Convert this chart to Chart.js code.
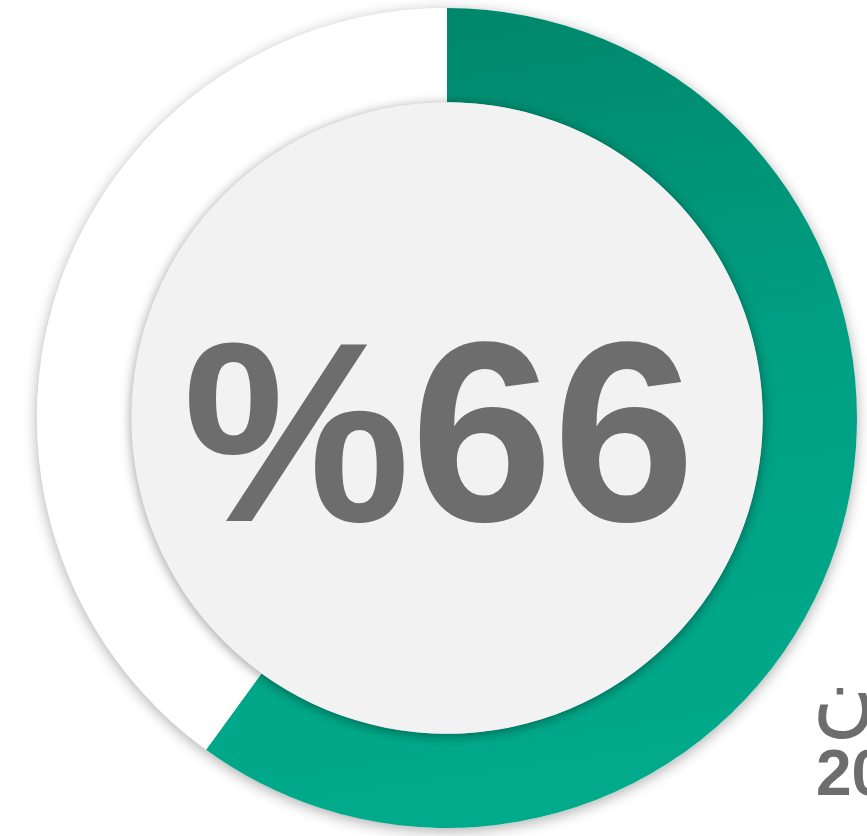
<!DOCTYPE html>
<html>
<head>
<meta charset="utf-8">
<script src="https://cdn.jsdelivr.net/npm/chart.js@4/dist/chart.umd.min.js"></script>
<style>
    html, body { margin: 0; padding: 0; background: #ffffff; }
    #wrap { width: 867px; height: 836px; position: relative; }
</style>
</head>
<body>
<div id="wrap"><canvas id="chart"></canvas></div>
<script>
// chart data
const labels = ["النسبة", "المتبقي"];
const values = [60, 40];          // arc as drawn in the picture
const centerLabel = "%66";
const sideLines = ["من", "2030"];  // text cut off at the right edge

const GREEN_TOP = "#00876b";
const GREEN_BOTTOM = "#00ab8b";
const REST = "#ffffff";
const DISK = "#f2f2f2";
const TEXT = "#6d6d6d";

function greenFill(chart) {
    const area = chart.chartArea;
    if (!area) return GREEN_BOTTOM;
    const g = chart.ctx.createLinearGradient(area.left + area.width / 2, area.top, area.left + area.width * 0.65, area.bottom);
    g.addColorStop(0, GREEN_TOP);
    g.addColorStop(0.45, "#009f83");
    g.addColorStop(1, GREEN_BOTTOM);
    return g;
}

// shadow behind the ring, grey disk in the middle, and the texts
const ringDecor = {
    id: "ringDecor",
    beforeDatasetsDraw(chart) {
        const arc = chart.getDatasetMeta(0).data[0];
        if (!arc) return;
        const ctx = chart.ctx;
        ctx.save();
        ctx.shadowColor = "rgba(0,0,0,0.32)";
        ctx.shadowBlur = 14;
        ctx.shadowOffsetY = 3;
        ctx.fillStyle = "#ffffff";
        ctx.beginPath();
        ctx.arc(arc.x, arc.y, arc.outerRadius, 0, Math.PI * 2);
        ctx.fill();
        ctx.restore();
    },
    afterDatasetsDraw(chart) {
        const arc = chart.getDatasetMeta(0).data[0];
        if (!arc) return;
        const ctx = chart.ctx;
        ctx.save();
        ctx.shadowColor = "rgba(0,0,0,0.40)";
        ctx.shadowBlur = 12;
        ctx.shadowOffsetY = 2;
        ctx.fillStyle = DISK;
        ctx.beginPath();
        ctx.arc(arc.x, arc.y, arc.innerRadius, 0, Math.PI * 2);
        ctx.fill();
        ctx.restore();

        ctx.save();
        ctx.fillStyle = TEXT;
        ctx.font = "bold 256px 'Liberation Sans', Arial, sans-serif";
        ctx.textAlign = "center";
        ctx.textBaseline = "alphabetic";
        ctx.fillText(centerLabel, arc.x - 8, 521);

        ctx.textAlign = "left";
        ctx.font = "88px 'DejaVu Sans', sans-serif";
        ctx.fillText(sideLines[0], 812, 718);
        ctx.font = "bold 64px 'Liberation Sans', 'DejaVu Sans', sans-serif";
        ctx.fillText(sideLines[1], 816, 795);
        ctx.restore();
    }
};

new Chart(document.getElementById("chart"), {
    type: "doughnut",
    data: {
        labels: labels,
        datasets: [{
            data: values,
            backgroundColor: (c) => c.dataIndex === 0 ? greenFill(c.chart) : REST,
            borderWidth: 0,
            hoverOffset: 0
        }]
    },
    options: {
        responsive: true,
        maintainAspectRatio: false,
        animation: false,
        cutout: "77%",
        layout: { padding: { left: 37, right: 10, top: 8, bottom: 8 } },
        plugins: {
            legend: { display: false },
            tooltip: { enabled: false }
        }
    },
    plugins: [ringDecor]
});
</script>
</body>
</html>
